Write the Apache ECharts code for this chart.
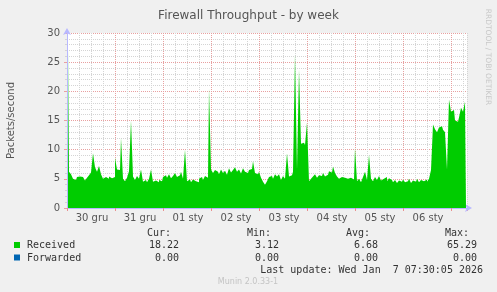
<!DOCTYPE html>
<html>
<head>
<meta charset="utf-8">
<script src="https://cdn.jsdelivr.net/npm/echarts@6/dist/echarts.min.js"></script>
<style>
html,body{margin:0;padding:0;background:#F0F0F0;}
#c{width:497px;height:292px;}
</style>
</head>
<body>
<div id="c"></div>
<script>
// Day labels (one per 24 hourly slots, starting 30 gru 00:00)
var dayLabels = ['30 gru','31 gru','01 sty','02 sty','03 sty','04 sty','05 sty','06 sty'];
// Received packets/second, hourly samples
var received = [
27.3,6.2,5.8,5.0,4.8,5.3,5.4,5.3,5.1,4.7,5.2,5.6,6.1,9.4,7.0,6.2,7.2,5.8,5.0,5.3,5.0,5.4,5.1,5.3,
8.6,6.6,6.5,12.0,5.0,4.6,5.2,6.3,15.0,5.4,4.8,5.5,5.0,6.6,4.5,4.8,4.4,5.0,6.6,4.5,4.7,4.4,4.8,4.6,
5.3,5.6,5.2,5.8,5.1,5.5,6.0,5.3,5.6,6.2,5.0,10.0,4.6,4.9,4.4,4.9,4.6,4.4,5.0,5.3,4.8,5.5,5.2,20.5,
6.6,6.0,6.5,6.2,5.8,6.6,6.0,6.4,5.7,6.8,6.1,6.5,7.0,6.2,6.6,5.9,6.8,6.2,6.0,6.5,6.7,8.0,6.0,5.8,
6.2,5.2,4.5,4.0,4.6,5.3,5.5,5.0,5.8,5.4,5.8,4.8,5.5,5.0,9.4,5.4,5.6,6.2,26.3,6.6,23.7,11.0,11.2,10.8,
14.6,4.6,5.0,5.4,5.8,5.2,5.6,5.5,6.0,5.4,5.7,6.3,6.1,7.1,6.0,5.4,5.0,5.3,5.2,5.4,5.0,5.2,5.3,4.9,
10.3,4.6,5.0,4.4,5.3,6.2,4.8,9.1,5.0,4.6,5.3,4.8,5.5,4.7,5.0,5.3,4.6,5.1,4.8,4.4,4.8,4.3,4.7,4.5,
4.9,4.4,4.6,5.0,4.3,4.7,4.5,5.0,4.4,4.8,4.6,4.9,4.5,5.0,6.5,14.3,13.5,13.0,13.8,14.0,13.4,13.0,6.6,18.6,
16.5,16.8,15.0,14.8,15.5,17.2,16.5,18.2
];
var legendNames = ['Received','Forwarded'];
var legendColors = ['#00CC00','#0066B3'];
var statHeaders = ['Cur:','Min:','Avg:','Max:'];
var statReceived = ['18.22','3.12','6.68','65.29'];
var statForwarded = ['0.00','0.00','0.00','0.00'];
var yTicks = [0,5,10,15,20,25,30];

var hours = received.map(function(_, i){ return String(i); });

var chart = echarts.init(document.getElementById('c'), null, {renderer:'canvas'});
var mono = '"DejaVu Sans Mono", monospace';
var sans = '"DejaVu Sans", sans-serif';
var statX = [171, 271, 370, 469];
var valX = [179, 279, 378, 477];

var graphics = [];
legendNames.forEach(function(n, k){
  graphics.push({type:'rect', shape:{x:14, y:242 + k*12.5, width:6, height:6}, style:{fill:legendColors[k]}});
  graphics.push({type:'text', x:27, y:245.5 + k*12.5, style:{text:n, font:'10px ' + mono, fill:'#333', verticalAlign:'middle'}});
});
statHeaders.forEach(function(h, k){
  graphics.push({type:'text', x:statX[k], y:233.5, style:{text:h, font:'10px ' + mono, fill:'#333', align:'right', verticalAlign:'middle'}});
  graphics.push({type:'text', x:valX[k], y:245.5, style:{text:statReceived[k], font:'10px ' + mono, fill:'#333', align:'right', verticalAlign:'middle'}});
  graphics.push({type:'text', x:valX[k], y:258, style:{text:statForwarded[k], font:'10px ' + mono, fill:'#333', align:'right', verticalAlign:'middle'}});
});
graphics.push({type:'text', x:483, y:270, style:{text:'Last update: Wed Jan  7 07:30:05 2026', font:'10px ' + mono, fill:'#333', align:'right', verticalAlign:'middle'}});
graphics.push({type:'text', x:248, y:281.5, style:{text:'Munin 2.0.33-1', font:'8px ' + sans, fill:'#C4C4C4', align:'center', verticalAlign:'middle'}});
graphics.push({type:'text', x:488, y:57, rotation:-Math.PI/2, style:{text:'RRDTOOL / TOBI OETIKER', font:'7.5px ' + sans, fill:'#C8C8C8', align:'center', verticalAlign:'middle'}});

chart.setOption({
  backgroundColor:'#F0F0F0',
  animation:false,
  title:{text:'Firewall Throughput - by week', left:'center', top:5,
    textStyle:{fontFamily:sans, fontSize:12, fontWeight:'normal', color:'#555'}},
  grid:{left:67, top:33, width:400, height:175, show:true, backgroundColor:'#FFFFFF', borderWidth:0,
    containLabel:false, outerBoundsMode:'none'},
  xAxis:{
    type:'category', data:hours, boundaryGap:true,
    axisLine:{show:true, symbol:['none','arrow'], symbolSize:[6,7], symbolOffset:[0,5], lineStyle:{color:'#B8B8FF', width:1}},
    axisTick:{show:true, length:3, interval:function(i){ return i % 24 === 0; }, lineStyle:{color:'#E89090'}},
    axisLabel:{show:true, interval:function(i){ return i % 24 === 12; }, margin:5,
      formatter:function(v, i){ return dayLabels[Math.floor(i/24)]; },
      fontFamily:sans, fontSize:10, color:'#555'},
    splitLine:{show:true, interval:function(i){ return i % 6 === 0; },
      lineStyle:{color:['#E8A0A0','#D4D4D4','#D4D4D4','#D4D4D4'], type:[1,1], width:1}}
  },
  yAxis:{
    type:'value', min:0, max:30, interval:5,
    name:'Packets/second', nameLocation:'middle', nameRotate:90, nameGap:51,
    nameTextStyle:{fontFamily:sans, fontSize:10, color:'#555'},
    axisLine:{show:true, symbol:['none','arrow'], symbolSize:[6,7], symbolOffset:[0,5], lineStyle:{color:'#B8B8FF', width:1}},
    axisTick:{show:true, length:3, lineStyle:{color:'#E8A0A0'}},
    minorTick:{show:true, splitNumber:5, length:2, lineStyle:{color:'#D4D4D4'}},
    axisLabel:{margin:7, fontFamily:sans, fontSize:10, color:'#555',
      formatter:function(v){ return yTicks.indexOf(v) >= 0 ? String(v) : ''; }},
    splitLine:{show:true, lineStyle:{color:'#E8A0A0', type:[1,1], width:1}},
    minorSplitLine:{show:true, lineStyle:{color:'#D4D4D4', type:[1,1], width:1}}
  },
  series:[{
    name:'Received', type:'line', data:received, step:'middle',
    symbol:'none', lineStyle:{width:0}, areaStyle:{color:'#00CC00', opacity:1},
    z:2
  }],
  graphic:graphics
});
</script>
</body>
</html>
